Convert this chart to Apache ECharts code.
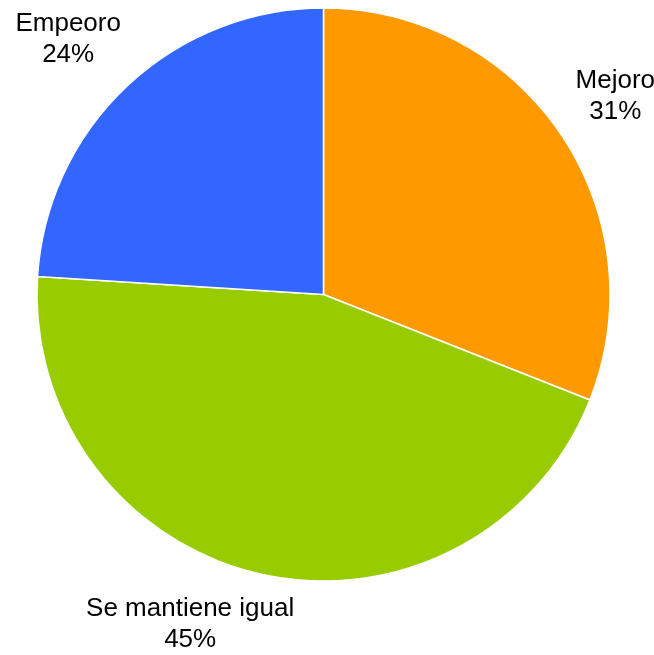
<!DOCTYPE html>
<html><head><meta charset="utf-8">
<script src="https://cdn.jsdelivr.net/npm/echarts@6/dist/echarts.min.js"></script>
<style>html,body{margin:0;padding:0;background:#fff}#c{width:654px;height:655px}</style>
</head><body><div id="c"></div>
<script>
const categories = ['Mejoro', 'Se mantiene igual', 'Empeoro'];
const values = [31, 45, 24];
const colors = ['#FF9900', '#99CC00', '#3366FF'];

const W = 654, H = 655, CX = 323.5, CY = 294.5, RAD = 286.5;
const GAP = 16, EDGE = 8;
const total = values.reduce((a, b) => a + b, 0);
function midAngle(i) {
  let s = 0;
  for (let k = 0; k < i; k++) s += values[k];
  return (s + values[i] / 2) / total * 2 * Math.PI;
}

const chart = echarts.init(document.getElementById('c'), null, {renderer: 'canvas'});
chart.setOption({
  animation: false,
  backgroundColor: '#fff',
  series: [{
    type: 'pie',
    center: [CX, CY],
    radius: RAD,
    startAngle: 90,
    clockwise: true,
    avoidLabelOverlap: false,
    percentPrecision: 0,
    data: categories.map((n, i) => ({name: n, value: values[i], itemStyle: {color: colors[i]}})),
    itemStyle: {borderColor: '#fff', borderWidth: 1.5},
    emphasis: {disabled: true},
    label: {
      show: true, position: 'outside', formatter: '{b}\n{d}%',
      fontFamily: 'Liberation Sans', fontSize: 26, lineHeight: 31,
      color: '#000', align: 'center'
    },
    labelLine: {show: false},
    labelLayout: function (p) {
      const a = midAngle(p.dataIndex);
      const sx = Math.sin(a), cy = -Math.cos(a);
      const hw = p.labelRect.width / 2, hh = p.labelRect.height / 2;
      const LR = RAD + GAP + Math.abs(sx) * hw + Math.abs(cy) * hh;
      let x = CX + LR * sx;
      let y = CY + LR * cy;
      let slide = false;
      if (y - hh < EDGE) { y = EDGE + hh; slide = true; }
      if (y + hh > H) { y = H - hh; slide = true; }
      if (slide) {
        const dy = y - CY;
        x = CX + Math.sign(sx) * Math.sqrt(Math.max(0, LR * LR - dy * dy));
      }
      return {x: x, y: y, align: 'center', verticalAlign: 'middle'};
    }
  }]
});
</script>
</body></html>
